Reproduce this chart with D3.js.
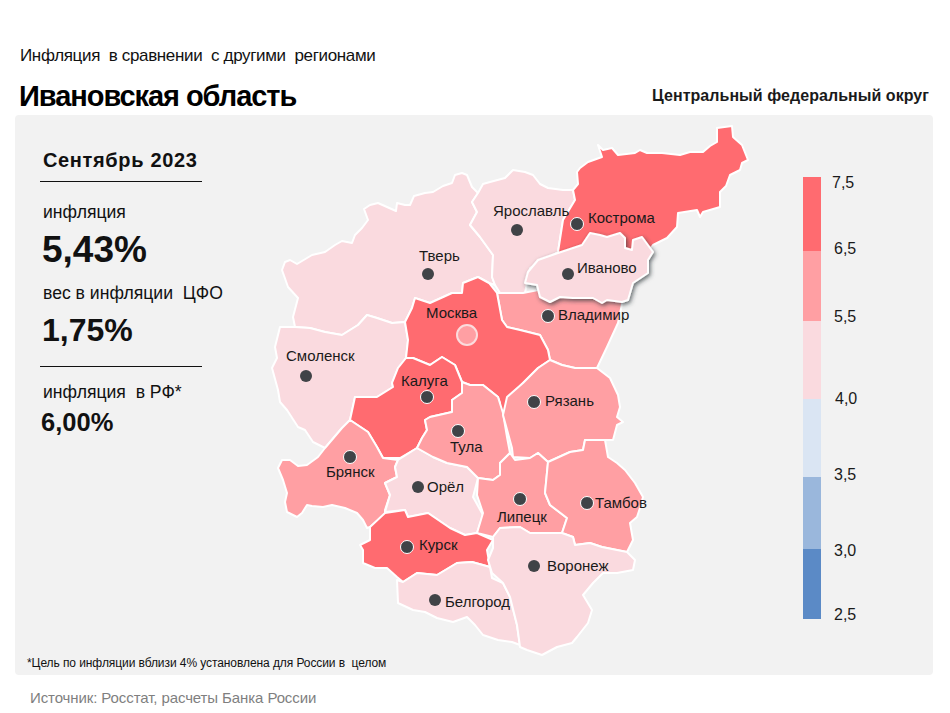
<!DOCTYPE html>
<html><head><meta charset="utf-8">
<script src="https://d3js.org/d3.v7.min.js"></script>
<style>html,body{margin:0;padding:0;background:#fff}svg{display:block}text{font-family:"Liberation Sans",Arial,sans-serif}</style>
</head><body><svg id="c" width="950" height="713"></svg>
<script>
// ---------- data ----------
const regionNames = ["Тверь","Смоленск","Ярославль","Кострома","Владимир","Москва","Калуга","Брянск","Орёл","Тула","Рязань","Липецк","Тамбов","Курск","Белгород","Воронеж","Иваново"];
// lower bound of the legend bin each region falls in
const regionBins = [4.0,4.0,4.0,6.5,5.5,6.5,6.5,5.5,4.0,5.5,5.5,5.5,5.5,6.5,4.0,4.0,4.0];
const legendTicks = [7.5,6.5,5.5,4.0,3.5,3.0,2.5];
const legendColors = ["#5B8AC6","#9AB7DC","#DAE5F3","#FADADF","#FF9FA3","#FF6B70"];
const statLabels = ["инфляция","вес в инфляции  ЦФО","инфляция  в РФ*"];
const statValues = [5.43,1.75,6.00];

// map geometry (map units)
const outlines = {
"Тверь":[[282,270],[285,262],[290,260],[297,264],[307,258],[312,255],[325,252],[335,245],[342,241],[352,243],[355,235],[362,228],[368,220],[364,209],[370,205],[378,203],[387,207],[396,211],[397,203],[405,205],[410,205],[414,196],[425,193],[433,192],[443,186],[452,183],[455,175],[462,173],[467,175],[472,187],[478,193],[472,202],[477,212],[470,225],[480,237],[493,255],[492,277],[495,285],[489,283],[478,277],[463,283],[462,293],[452,293],[430,303],[415,298],[412,308],[405,322],[392,323],[377,318],[367,315],[358,325],[342,335],[325,332],[310,328],[295,327],[293,317],[298,298],[288,287]],
"Смоленск":[[280,327],[295,327],[310,328],[325,332],[342,335],[358,325],[367,315],[377,318],[392,323],[405,322],[408,340],[406,358],[398,368],[392,383],[393,387],[377,397],[355,397],[350,420],[342,428],[325,448],[313,442],[305,430],[298,427],[287,410],[280,402],[278,390],[272,368],[277,358],[275,347]],
"Ярославль":[[478,193],[483,184],[490,182],[505,178],[513,170],[525,172],[533,175],[540,184],[548,188],[563,190],[573,190],[575,200],[563,220],[558,252],[530,268],[525,293],[500,293],[495,285],[492,277],[493,255],[480,237],[470,225],[477,212],[472,202]],
"Кострома":[[558,252],[563,220],[575,200],[573,190],[578,184],[577,172],[580,168],[588,162],[602,157],[598,145],[603,150],[612,148],[618,155],[635,153],[640,150],[647,153],[662,153],[680,155],[690,152],[703,152],[710,146],[717,142],[717,128],[732,126],[733,137],[742,145],[748,160],[742,163],[740,170],[730,175],[726,186],[720,192],[720,207],[703,212],[700,217],[697,210],[678,213],[677,227],[667,238],[653,245],[640,262],[560,262]],
"Владимир":[[497,293],[523,293],[538,290],[625,290],[618,323],[607,347],[597,368],[575,368],[562,365],[550,360],[548,350],[540,335],[520,330],[507,327],[502,320]],
"Москва":[[405,322],[412,308],[415,298],[430,303],[452,293],[462,293],[463,283],[478,277],[489,283],[497,293],[502,320],[507,327],[520,330],[540,335],[548,350],[550,360],[538,368],[523,383],[510,397],[505,412],[500,412],[500,403],[498,397],[483,385],[470,385],[462,382],[455,365],[442,357],[430,365],[413,358],[406,358],[408,340]],
"Калуга":[[406,358],[413,358],[430,365],[442,357],[455,365],[462,382],[462,393],[452,400],[452,412],[430,417],[425,420],[427,430],[422,438],[417,448],[400,458],[383,458],[377,447],[368,432],[350,420],[355,397],[377,397],[393,387],[392,383],[398,368]],
"Брянск":[[350,420],[368,432],[377,447],[383,458],[398,460],[395,467],[397,477],[385,483],[390,495],[385,510],[385,515],[370,527],[367,528],[363,520],[357,513],[345,508],[332,505],[323,507],[312,506],[307,505],[302,513],[297,517],[287,512],[285,502],[287,493],[283,480],[278,468],[282,460],[290,460],[298,466],[307,465],[318,457],[325,448],[342,428]],
"Орёл":[[398,460],[417,448],[433,457],[447,463],[467,467],[478,478],[473,497],[483,515],[477,533],[465,535],[450,528],[428,513],[408,517],[405,510],[385,512],[390,495],[385,483],[397,477],[395,467]],
"Тула":[[462,393],[452,400],[452,412],[430,417],[425,420],[427,430],[422,438],[417,448],[433,457],[447,463],[467,467],[478,478],[493,480],[500,475],[500,463],[510,453],[507,437],[503,413],[498,397],[483,385],[470,385],[462,382]],
"Рязань":[[507,397],[523,383],[538,368],[550,360],[562,365],[575,368],[597,368],[610,378],[618,395],[620,407],[617,417],[623,422],[617,425],[613,440],[605,440],[585,440],[583,450],[570,452],[548,462],[538,453],[530,458],[513,457],[512,448],[503,415]],
"Липецк":[[510,453],[515,460],[530,458],[538,453],[548,462],[545,493],[550,505],[567,518],[562,533],[530,533],[520,527],[500,528],[493,537],[477,533],[483,513],[477,495],[478,478],[493,480],[500,475],[500,463]],
"Тамбов":[[548,462],[545,493],[550,505],[567,518],[562,533],[573,537],[575,545],[590,543],[602,547],[627,552],[633,540],[630,523],[637,517],[640,508],[643,497],[635,483],[625,470],[617,463],[608,457],[605,440],[585,440],[583,450],[570,452]],
"Курск":[[370,527],[385,513],[405,510],[408,517],[428,513],[450,528],[465,535],[477,533],[493,540],[487,550],[490,567],[472,562],[457,563],[437,575],[417,573],[403,582],[397,577],[387,568],[375,568],[363,563],[363,550],[360,545],[370,540]],
"Белгород":[[397,580],[403,582],[417,573],[437,575],[457,563],[472,562],[490,567],[492,578],[503,583],[510,597],[517,625],[520,645],[512,642],[498,640],[483,635],[475,625],[467,617],[453,622],[437,618],[425,612],[413,610],[398,603]],
"Воронеж":[[493,537],[500,528],[520,527],[530,533],[562,533],[573,537],[575,545],[590,543],[602,547],[627,552],[635,560],[633,570],[617,573],[603,573],[593,583],[583,595],[592,610],[588,623],[577,637],[572,643],[557,647],[542,655],[527,650],[520,647],[517,625],[510,597],[503,583],[492,573],[488,560],[493,548]],
"Иваново":[[525,283],[528,272],[538,260],[558,253],[582,245],[590,233],[600,235],[607,237],[620,233],[625,238],[625,248],[632,250],[633,240],[642,237],[653,252],[648,260],[648,273],[633,283],[628,300],[622,302],[607,300],[602,303],[593,298],[573,298],[560,297],[550,302],[540,297],[537,285]]
};
const cityPoints = {"Тверь":[428,274],"Смоленск":[306,376],"Ярославль":[517,230],"Кострома":[577,224],"Владимир":[548,316],"Москва":[467,335],"Калуга":[427,397],"Брянск":[350,457],"Орёл":[418,487],"Тула":[458,431],"Рязань":[534,402],"Липецк":[520,499],"Тамбов":[587,503],"Курск":[407,547],"Белгород":[435,600],"Воронеж":[534,566],"Иваново":[568,274]};
const cityLabels = {"Тверь":[419,261],"Смоленск":[286,361],"Ярославль":[493,216],"Кострома":[588,223],"Владимир":[558,320],"Москва":[426,318],"Калуга":[401,386],"Брянск":[326,477],"Орёл":[427,492],"Тула":[450,452],"Рязань":[545,406],"Липецк":[497,522],"Тамбов":[595,508],"Курск":[419,550],"Белгород":[445,607],"Воронеж":[547,571],"Иваново":[577,273]};

// ---------- drawing ----------
const svg = d3.select("#c");
const defs = svg.append("defs");
const f = defs.append("filter").attr("id","sh").attr("x","-20%").attr("y","-20%").attr("width","140%").attr("height","150%");
f.append("feDropShadow").attr("dx",1.5).attr("dy",2).attr("stdDeviation",2.2).attr("flood-color","#2a3438").attr("flood-opacity",0.7);

svg.append("rect").attr("x",15).attr("y",115).attr("width",918).attr("height",560).attr("rx",4).attr("fill","#F2F2F2");

const txt=(s,x,y,size,o={})=>svg.append("text").text(s).attr("x",x).attr("y",y).attr("font-size",size)
  .attr("font-weight",o.b?"bold":"normal").attr("fill",o.c||"#111").attr("text-anchor",o.a||"start")
  .style("letter-spacing",(o.ls||0)+"px").style("white-space","pre");
txt("Инфляция  в сравнении  с другими  регионами",20,61,17,{ls:-0.35});
txt("Ивановская область",19,106,29,{b:1,ls:-1.05,c:"#000"});
txt("Центральный федеральный округ",929,101,16,{b:1,a:"end",c:"#1a1a1a",ls:0.05});
txt("Сентябрь 2023",43,167,20,{b:1,ls:0.65});
const fmt=v=>d3.format(".2f")(v).replace(".",",")+"%";
txt(statLabels[0],43,218,17.6);
txt(fmt(statValues[0]),42,262,37,{b:1});
txt(statLabels[1],43,299,17.6);
txt(fmt(statValues[1]),42,341,32,{b:1});
txt(statLabels[2],43,398,17.6);
txt(fmt(statValues[2]),41,431,25.5,{b:1});
[181.5,366.5].forEach(y=>svg.append("line").attr("x1",40).attr("x2",202).attr("y1",y).attr("y2",y).attr("stroke","#111").attr("stroke-width",1));
txt("*Цель по инфляции вблизи 4% установлена для России в  целом",27,667,12,{ls:-0.08});
txt("Источник: Росстат, расчеты Банка России",30,703,15,{c:"#7f7f7f",ls:-0.1});

// map
const features = regionNames.map((n,i)=>({type:"Feature",properties:{name:n,bin:regionBins[i]},
  geometry:{type:"Polygon",coordinates:[[...outlines[n],outlines[n][0]]]}}));
const path = d3.geoPath(d3.geoIdentity());
const colorScale = d3.scaleThreshold().domain([3.0,3.5,4.0,5.5,6.5]).range(legendColors);
const g = svg.append("g");
g.selectAll("path.r").data(features).join("path").attr("class","r").attr("d",path)
 .attr("fill",d=>colorScale(d.properties.bin)).attr("stroke","#fff").attr("stroke-width",2).attr("stroke-linejoin","round")
 .attr("filter",d=>d.properties.name==="Иваново"?"url(#sh)":null);

// city dots
const ringed = new Set(["Кострома","Владимир","Калуга","Брянск","Тула","Рязань","Липецк","Тамбов","Курск"]);
regionNames.forEach(n=>{
  const [x,y]=cityPoints[n];
  if(n==="Москва"){
    g.append("circle").attr("cx",x).attr("cy",y).attr("r",10).attr("fill","#FF9FA3").attr("stroke","#FBDCDD").attr("stroke-width",2);
  } else {
    g.append("circle").attr("cx",x).attr("cy",y).attr("r",ringed.has(n)?6.5:6).attr("fill","#404347")
      .attr("stroke",ringed.has(n)?"#fff":"none").attr("stroke-width",1);
  }
  const [lx,ly]=cityLabels[n];
  g.append("text").text(n).attr("x",lx).attr("y",ly).attr("font-size",15).attr("fill","#1a1a1a");
});

// legend
const yLegend = d3.scaleLinear().domain(legendTicks).range([177,251,321,399,477,549,619]);
const bins = legendColors.map((c,i)=>({c,lo:legendTicks[6-i],hi:legendTicks[5-i]}));
svg.append("g").selectAll("rect").data(bins).join("rect").attr("x",803).attr("width",18)
  .attr("y",d=>yLegend(d.hi)).attr("height",d=>yLegend(d.lo)-yLegend(d.hi)).attr("fill",d=>d.c);
const lblY = d3.scaleLinear().domain(legendTicks).range([188,254,322,404,480,556,620]);
svg.append("g").selectAll("text").data(legendTicks).join("text").text(d=>d3.format(".1f")(d).replace(".",","))
  .attr("x",d=>d===7.5?832:(d===4?835:834)).attr("y",d=>lblY(d)).attr("font-size",16).attr("fill","#1a1a1a");
</script></body></html>
